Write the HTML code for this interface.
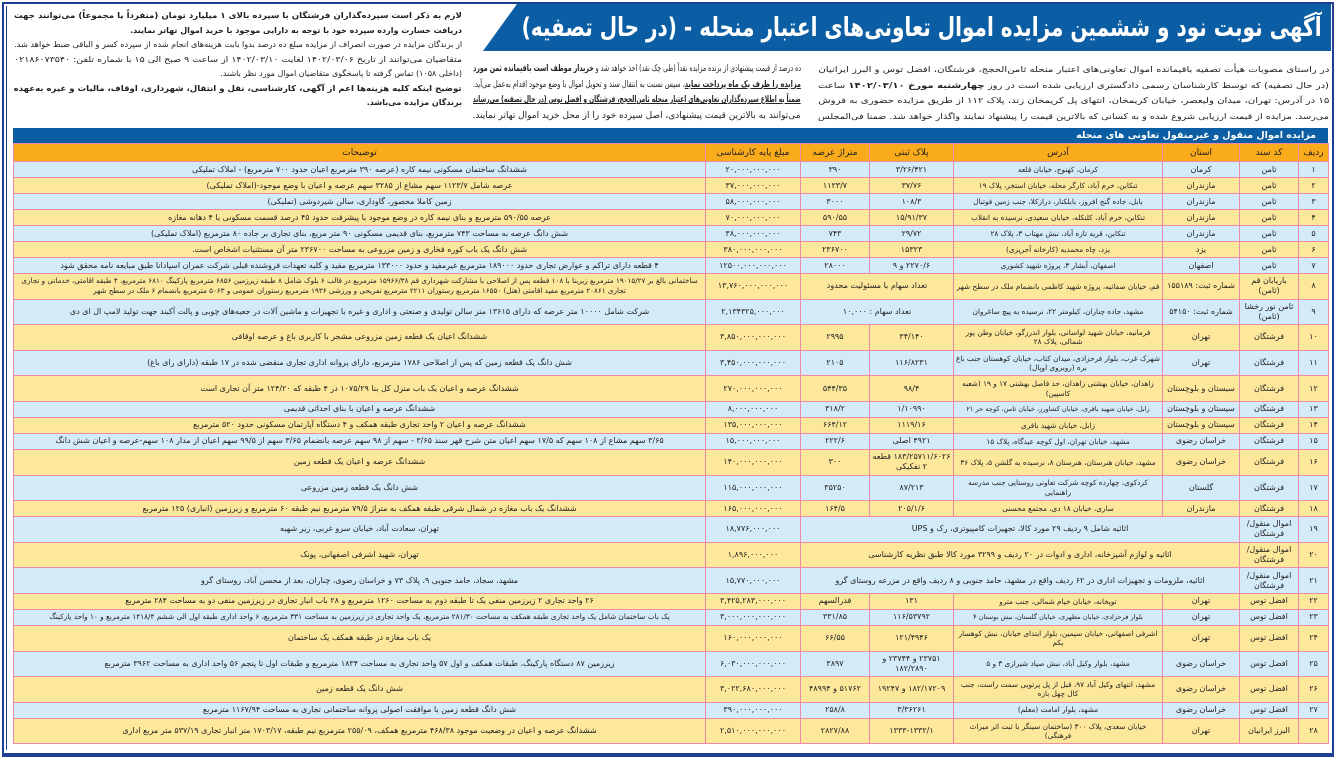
<!DOCTYPE html>
<html><head><meta charset="utf-8">
<style>
*{margin:0;padding:0;box-sizing:border-box}
body{width:1336px;height:764px;background:#fff;position:relative;overflow:hidden;font-family:"DejaVu Sans","Liberation Sans",sans-serif;color:#222}
.frame{position:absolute;left:2px;top:2px;width:1332px;height:755px;border:2px solid #1f3f94;border-bottom:4px solid #1f3f94}
.frame2{position:absolute;left:6px;top:6px;width:1324px;height:744px;border-left:1px solid #1f3f94}
.txt{position:absolute;direction:rtl;white-space:nowrap}
.txt div{overflow:hidden;text-align:right}
.txt span{display:inline-block;transform-origin:right center}
.b{font-weight:bold;text-decoration:underline}
.title{position:absolute;left:0;top:0}
table{position:absolute;left:13px;top:143px;width:1315px;border-collapse:collapse;table-layout:fixed;direction:rtl;font-size:8px}
td{border:1px solid #ee8aa8;text-align:center;padding:0;vertical-align:middle}
td>div{overflow:hidden;display:flex;align-items:center;justify-content:center;line-height:10px;padding:0 2px}
td.ad>div{font-size:7.3px;line-height:9.5px}
tr.s td>div{height:15px}
tr.d td>div{height:24.6px}
tr.h td{background:#f9ab1b;font-size:9px}
tr.h td>div{height:17px}
tr.o td{background:#d3ebf8}
tr.e td{background:#fde79b}
td.desc>div{white-space:nowrap}
.tbar{position:absolute;left:13px;top:128px;width:1315px;height:15px;background:#0b5ea3;color:#fff;font-weight:bold;font-size:9.5px;direction:rtl;padding-right:12px;line-height:15px}
#ttl{position:absolute;top:9px;right:14px;width:800px;height:38px;direction:rtl;color:#fff;font-weight:bold;font-size:26px;line-height:38px;white-space:nowrap;overflow:visible;text-align:right}
#ttl span{display:inline-block;transform-origin:right center}
</style></head><body>
<div class="frame"></div>
<div class="frame2"></div>
<svg class="title" width="1336" height="60"><polygon points="517,4 1331,4 1331,51 483,51" fill="#0b5ea3"/></svg>
<div id="ttl"><span>آگهی نوبت نود و ششمین مزایده اموال تعاونی‌های اعتبار منحله - (در حال تصفیه)</span></div>

<div class="txt fitbox" style="left:14px;top:9px;width:448px;font-size:8px;line-height:14.5px">
<div class="b"><span>لازم به ذکر است سپرده‌گذاران فرشتگان با سپرده بالای ۱ میلیارد تومان (منفرداً یا مجموعاً) می‌توانند جهت</span></div>
<div class="b"><span data-nofit="1">دریافت خسارت وارده سپرده خود با توجه به دارایی موجود با خرید اموال تهاتر نمایند.</span></div>
<div><span>از برندگان مزایده در صورت انصراف از مزایده مبلغ ده درصد بدوا بابت هزینه‌های انجام شده از سپرده کسر و الباقی ضبط خواهد شد.</span></div>
<div><span>متقاضیان می‌توانند از تاریخ ۱۴۰۲/۰۳/۰۶ لغایت ۱۴۰۲/۰۳/۱۰ از ساعت ۹ صبح الی ۱۵ با شماره تلفن: ۰۲۱۸۶۰۷۳۵۴۰</span></div>
<div><span data-nofit="1">(داخلی ۱۰۵۸) تماس گرفته تا پاسخگوی متقاضیان اموال مورد نظر باشند.</span></div>
<div class="b"><span>توضیح اینکه کلیه هزینه‌ها اعم از آگهی، کارشناسی، نقل و انتقال، شهرداری، اوقاف، مالیات و غیره به‌عهده</span></div>
<div class="b"><span data-nofit="1">برندگان مزایده می‌باشد.</span></div>
</div>

<div class="txt fitbox" style="left:818px;top:62px;width:511px;font-size:8px;line-height:15.5px">
<div><span>در راستای مصوبات هیأت تصفیه باقیمانده اموال تعاونی‌های اعتبار منحله ثامن‌الحجج، فرشتگان، افضل توس و البرز ایرانیان</span></div>
<div><span>(در حال تصفیه) که توسط کارشناسان رسمی دادگستری ارزیابی شده است در روز <b>چهارشنبه مورخ ۱۴۰۲/۰۳/۱۰</b> ساعت</span></div>
<div><span>۱۵ در آدرس: تهران، میدان ولیعصر، خیابان کریمخان، انتهای پل کریمخان زند، پلاک ۱۱۲ از طریق مزایده حضوری به فروش</span></div>
<div><span>می‌رسد. مزایده از قیمت ارزیابی شروع شده و به کسانی که بالاترین قیمت را پیشنهاد نمایند واگذار خواهد شد. ضمنا فی‌المجلس</span></div>
</div>
<div class="txt fitbox" style="left:473px;top:62px;width:328px;font-size:9px;line-height:15.5px">
<div><span>ده درصد از قیمت پیشنهادی از برنده مزایده نقداً (طی چک نقد) اخذ خواهد شد و <b>خریدار موظف است باقیمانده ثمن مورد</b></span></div>
<div><span><b style="text-decoration:underline">مزایده را ظرف یک ماه پرداخت نماید</b>، سپس نسبت به انتقال سند و تحویل اموال با وضع موجود اقدام به‌عمل می‌آید.</span></div>
<div><span><b style="text-decoration:underline">ضمناً به اطلاع سپرده‌گذاران تعاونی‌های اعتبار منحله ثامن‌الحجج، فرشتگان و افضل توس (در حال تصفیه) می‌رساند</b></span></div>
<div><span data-nofit="1">می‌توانند به بالاترین قیمت پیشنهادی، اصل سپرده خود را از محل خرید اموال تهاتر نمایند.</span></div>
</div>

<div class="tbar">مزایده اموال منقول و غیرمنقول تعاونی های منحله</div>
<table>
<colgroup><col style="width:30px"><col style="width:59px"><col style="width:77px"><col style="width:209px"><col style="width:84px"><col style="width:69px"><col style="width:95px"><col style="width:692px"></colgroup>
<tr class="h"><td><div>ردیف</div></td><td><div>کد سند</div></td><td><div>استان</div></td><td><div>آدرس</div></td><td><div>پلاک ثبتی</div></td><td><div>متراژ عرصه</div></td><td><div>مبلغ پایه کارشناسی</div></td><td class="desc"><div>توضیحات</div></td></tr>
<tr class="s o"><td><div>۱</div></td><td><div>ثامن</div></td><td><div>کرمان</div></td><td class="ad"><div>کرمان، کهنوج، خیابان قلعه</div></td><td><div>۳/۲۶/۴۲۱</div></td><td><div>۳۹۰</div></td><td><div>۲۰,۰۰۰,۰۰۰,۰۰۰</div></td><td class="desc"><div>ششدانگ ساختمان مسکونی نیمه کاره (عرصه ۳۹۰ مترمربع اعیان حدود ۷۰۰ مترمربع) - املاک تملیکی</div></td></tr>
<tr class="s e"><td><div>۲</div></td><td><div>ثامن</div></td><td><div>مازندران</div></td><td class="ad"><div>تنکابن، خرم آباد، کارگر محله، خیابان استخر، پلاک ۱۹</div></td><td><div>۳۷/۷۶</div></td><td><div>۱۱۲۳/۷</div></td><td><div>۳۷,۰۰۰,۰۰۰,۰۰۰</div></td><td class="desc"><div>عرصه شامل ۱۱۲۳/۷ سهم مشاع از ۳۲۸۵ سهم عرصه و اعیان با وضع موجود-(املاک تملیکی)</div></td></tr>
<tr class="s o"><td><div>۳</div></td><td><div>ثامن</div></td><td><div>مازندران</div></td><td class="ad"><div>بابل، جاده گنج افروز، بابلکنار، درازکلا، جنب زمین فوتبال</div></td><td><div>۱۰۸/۳</div></td><td><div>۳۰۰۰</div></td><td><div>۵۸,۰۰۰,۰۰۰,۰۰۰</div></td><td class="desc"><div>زمین کاملا محصور، گاوداری، سالن شیردوشی (تملیکی)</div></td></tr>
<tr class="s e"><td><div>۴</div></td><td><div>ثامن</div></td><td><div>مازندران</div></td><td class="ad"><div>تنکابن، خرم آباد، کلنکله، خیابان سعیدی، نرسیده به انقلاب</div></td><td><div>۱۵/۹۱/۳۷</div></td><td><div>۵۹۰/۵۵</div></td><td><div>۷۰,۰۰۰,۰۰۰,۰۰۰</div></td><td class="desc"><div>عرصه ۵۹۰/۵۵ مترمربع و بنای نیمه کاره در وضع موجود با پیشرفت حدود ۴۵ درصد قسمت مسکونی با ۴ دهانه مغازه</div></td></tr>
<tr class="s o"><td><div>۵</div></td><td><div>ثامن</div></td><td><div>مازندران</div></td><td class="ad"><div>تنکابن، قریه تازه آباد، نبش مهتاب ۳، پلاک ۲۸</div></td><td><div>۲۹/۷۲</div></td><td><div>۷۴۳</div></td><td><div>۳۸,۰۰۰,۰۰۰,۰۰۰</div></td><td class="desc"><div>شش دانگ عرصه به مساحت ۷۴۳ مترمربع، بنای قدیمی مسکونی ۹۰ متر مربع، بنای تجاری بر جاده ۸۰ مترمربع (املاک تملیکی)</div></td></tr>
<tr class="s e"><td><div>۶</div></td><td><div>ثامن</div></td><td><div>یزد</div></td><td class="ad"><div>یزد، چاه محمدیه (کارخانه آجرپزی)</div></td><td><div>۱۵۳۲۳</div></td><td><div>۲۳۶۷۰۰</div></td><td><div>۳۸۰,۰۰۰,۰۰۰,۰۰۰</div></td><td class="desc"><div>شش دانگ یک باب کوره فخاری و زمین مزروعی به مساحت ۲۳۶۷۰۰ متر آن مستثنیات اشخاص است.</div></td></tr>
<tr class="s o"><td><div>۷</div></td><td><div>ثامن</div></td><td><div>اصفهان</div></td><td class="ad"><div>اصفهان، آبشار ۳، پروژه شهید کشوری</div></td><td><div>۲۲۷۰/۶ و ۹</div></td><td><div>۲۸۰۰۰</div></td><td><div>۱۲۵۰۰,۰۰۰,۰۰۰,۰۰۰</div></td><td class="desc"><div>۴ قطعه دارای تراکم و عوارض تجاری حدود ۱۸۹۰۰۰ مترمربع غیرمفید و حدود ۱۳۳۰۰۰ مترمربع مفید و کلیه تعهدات فروشنده قبلی شرکت عمران اسپادانا طبق مبایعه نامه محقق شود</div></td></tr>
<tr class="d e"><td><div>۸</div></td><td><div>باریابان قم (ثامن)</div></td><td><div>شماره ثبت: ۱۵۵۱۸۹</div></td><td class="ad"><div>قم، خیابان صفائیه، پروژه شهید کاظمی بانضمام ملک در سطح شهر</div></td><td colspan="2"><div>تعداد سهام با مسئولیت محدود</div></td><td><div>۱۳,۷۶۰,۰۰۰,۰۰۰,۰۰۰</div></td><td class="desc"><div style="flex-direction:column;white-space:nowrap;font-size:7.2px">ساختمانی بالغ بر ۱۹۰۱۵/۲۷ مترمربع زیربنا با ۱۰۸ قطعه پس از اصلاحی با مشارکت شهرداری قم ۱۵۹۶۶/۳۸ مترمربع در قالب ۶ بلوک شامل ۸ طبقه زیرزمین ۶۸۵۶ مترمربع پارکینگ ۶۸۱۰ مترمربع، ۴ طبقه اقامتی، خدماتی و تجاری<br>تجاری ۲۰۸۶۱ مترمربع مفید اقامتی (هتل) ۱۶۵۵۰ مترمربع رستوران ۲۲۱۱ مترمربع تفریحی و ورزشی ۱۹۳۶ مترمربع رستوران عمومی و ۵۰۶۳ مترمربع بانضمام ۶ ملک در سطح شهر</div></td></tr>
<tr class="d o"><td><div>۹</div></td><td><div>ثامن نور رخشا (ثامن)</div></td><td><div>شماره ثبت: ۵۴۱۵۰</div></td><td class="ad"><div>مشهد، جاده چناران، کیلومتر ۲۲، نرسیده به پیچ ساغروان</div></td><td colspan="2"><div>تعداد سهام : ۱۰,۰۰۰</div></td><td><div>۲,۱۳۴۳۲۵,۰۰۰,۰۰۰</div></td><td class="desc"><div>شرکت شامل ۱۰۰۰۰ متر عرصه که دارای ۱۳۶۱۵ متر سالن تولیدی و صنعتی و اداری و غیره با تجهیزات و ماشین آلات در جعبه‌های چوبی و پالت آکبند جهت تولید لامپ ال ای دی</div></td></tr>
<tr class="d e"><td><div>۱۰</div></td><td><div>فرشتگان</div></td><td><div>تهران</div></td><td class="ad"><div>فرمانیه، خیابان شهید لواسانی، بلوار اندرزگو، خیابان وطن پور شمالی، پلاک ۲۸</div></td><td><div>۳۴/۱۴۰</div></td><td><div>۲۹۹۵</div></td><td><div>۳,۸۵۰,۰۰۰,۰۰۰,۰۰۰</div></td><td class="desc"><div>ششدانگ اعیان یک قطعه زمین مزروعی مشجر با کاربری باغ و عرصه اوقافی</div></td></tr>
<tr class="d o"><td><div>۱۱</div></td><td><div>فرشتگان</div></td><td><div>تهران</div></td><td class="ad"><div>شهرک غرب، بلوار فرحزادی، میدان کتاب، خیابان کوهستان جنب باغ بره (روبروی اوپال)</div></td><td><div>۱۱۶/۸۲۳۱</div></td><td><div>۲۱۰۵</div></td><td><div>۳,۴۵۰,۰۰۰,۰۰۰,۰۰۰</div></td><td class="desc"><div>شش دانگ یک قطعه زمین که پس از اصلاحی ۱۷۸۶ مترمربع، دارای پروانه اداری تجاری منقضی شده در ۱۷ طبقه (دارای رای باغ)</div></td></tr>
<tr class="d e"><td><div>۱۲</div></td><td><div>فرشتگان</div></td><td><div>سیستان و بلوچستان</div></td><td class="ad"><div>زاهدان، خیابان بهشتی زاهدان، حد فاصل بهشتی ۱۷ و ۱۹ (شعبه کاسپین)</div></td><td><div>۹۸/۴</div></td><td><div>۵۴۴/۳۵</div></td><td><div>۲۷۰,۰۰۰,۰۰۰,۰۰۰</div></td><td class="desc"><div>ششدانگ عرصه و اعیان یک باب منزل کل بنا ۱۰۷۵/۲۹ در ۴ طبقه که ۱۲۴/۲۰ متر آن تجاری است</div></td></tr>
<tr class="s o"><td><div>۱۳</div></td><td><div>فرشتگان</div></td><td><div>سیستان و بلوچستان</div></td><td class="ad"><div style="font-size:6.6px">زابل، خیابان شهید باقری، خیابان کشاورز، خیابان ثامن، کوچه حر ۲۱</div></td><td><div>۱/۱۰۹۹۰</div></td><td><div>۳۱۸/۲</div></td><td><div>۸,۰۰۰,۰۰۰,۰۰۰</div></td><td class="desc"><div>ششدانگ عرصه و اعیان با بنای احداثی قدیمی</div></td></tr>
<tr class="s e"><td><div>۱۴</div></td><td><div>فرشتگان</div></td><td><div>سیستان و بلوچستان</div></td><td class="ad"><div>زابل، خیابان شهید باقری</div></td><td><div>۱۱۱۹/۱۶</div></td><td><div>۶۶۴/۱۲</div></td><td><div>۱۳۵,۰۰۰,۰۰۰,۰۰۰</div></td><td class="desc"><div>ششدانگ عرصه و اعیان ۲ واحد تجاری طبقه همکف و ۴ دستگاه آپارتمان مسکونی حدود ۵۲۰ مترمربع</div></td></tr>
<tr class="s o"><td><div>۱۵</div></td><td><div>فرشتگان</div></td><td><div>خراسان رضوی</div></td><td class="ad"><div>مشهد، خیابان تهران، اول کوچه عیدگاه، پلاک ۱۵</div></td><td><div>۴۹۲۱ اصلی</div></td><td><div>۲۲۲/۶</div></td><td><div>۱۵,۰۰۰,۰۰۰,۰۰۰</div></td><td class="desc"><div>۳/۶۵ سهم مشاع از ۱۰۸ سهم که ۱۷/۵ سهم اعیان متن شرح قهر سند ۳/۶۵ - سهم از ۹۸ سهم عرصه بانضمام ۳/۶۵ سهم از ۹۹/۵ سهم اعیان از مدار ۱۰۸ سهم-عرصه و اعیان شش دانگ</div></td></tr>
<tr class="d e"><td><div>۱۶</div></td><td><div>فرشتگان</div></td><td><div>خراسان رضوی</div></td><td class="ad"><div>مشهد، خیابان هنرستان، هنرستان ۸، نرسیده به گلشن ۵، پلاک ۳۶</div></td><td><div>۱۸۳/۲۵۷۱۱/۶۰۲۶ قطعه ۲ تفکیکی</div></td><td><div>۳۰۰</div></td><td><div>۱۴۰,۰۰۰,۰۰۰,۰۰۰</div></td><td class="desc"><div>ششدانگ عرصه و اعیان یک قطعه زمین</div></td></tr>
<tr class="d o"><td><div>۱۷</div></td><td><div>فرشتگان</div></td><td><div>گلستان</div></td><td class="ad"><div>کردکوی، چهارده کوچه شرکت تعاونی روستایی جنب مدرسه راهنمایی</div></td><td><div>۸۷/۲۱۳</div></td><td><div>۳۵۲۵۰</div></td><td><div>۱۱۵,۰۰۰,۰۰۰,۰۰۰</div></td><td class="desc"><div>شش دانگ یک قطعه زمین مزروعی</div></td></tr>
<tr class="s e"><td><div>۱۸</div></td><td><div>فرشتگان</div></td><td><div>مازندران</div></td><td class="ad"><div>ساری، خیابان ۱۸ دی، مجتمع محسنی</div></td><td><div>۲۰۵/۱/۶</div></td><td><div>۱۶۴/۵</div></td><td><div>۱۶۵,۰۰۰,۰۰۰,۰۰۰</div></td><td class="desc"><div>ششدانگ یک باب مغازه در شمال شرقی طبقه همکف به متراژ ۷۹/۵ مترمربع نیم طبقه ۶۰ مترمربع و زیرزمین (انباری) ۱۲۵ مترمربع</div></td></tr>
<tr class="d o"><td><div>۱۹</div></td><td><div>اموال منقول/ فرشتگان</div></td><td colspan="4"><div>اثاثیه شامل ۹ ردیف ۲۹ مورد کالا، تجهیزات کامپیوتری، رک و UPS</div></td><td><div>۱۸,۷۷۶,۰۰۰,۰۰۰</div></td><td class="desc"><div>تهران، سعادت آباد، خیابان سرو غربی، زیر شهبه</div></td></tr>
<tr class="d e"><td><div>۲۰</div></td><td><div>اموال منقول/ فرشتگان</div></td><td colspan="4"><div>اثاثیه و لوازم آشپزخانه، اداری و ادوات در ۲۰ ردیف و ۳۲۹۹ مورد کالا طبق نظریه کارشناسی</div></td><td><div>۱,۸۹۶,۰۰۰,۰۰۰</div></td><td class="desc"><div>تهران، شهید اشرفی اصفهانی، پونک</div></td></tr>
<tr class="d o"><td><div>۲۱</div></td><td><div>اموال منقول/ فرشتگان</div></td><td colspan="4"><div>اثاثیه، ملزومات و تجهیزات اداری در ۶۲ ردیف واقع در مشهد، حامد جنوبی و ۸ ردیف واقع در مزرعه روستای گرو</div></td><td><div>۱۵,۷۷۰,۰۰۰,۰۰۰</div></td><td class="desc"><div>مشهد، سجاد، حامد جنوبی ۹، پلاک ۷۳ و خراسان رضوی، چناران، بعد از محسن آباد، روستای گرو</div></td></tr>
<tr class="s e"><td><div>۲۲</div></td><td><div>افضل توس</div></td><td><div>تهران</div></td><td class="ad"><div>توپخانه، خیابان خیام شمالی، جنب مترو</div></td><td><div>۱۳۱</div></td><td><div>قدرالسهم</div></td><td><div>۳,۴۲۵,۲۸۳,۰۰۰,۰۰۰</div></td><td class="desc"><div>۲۶ واحد تجاری ۲ زیرزمین منفی یک تا طبقه دوم به مساحت ۱۲۶۰ مترمربع و ۲۸ باب انبار تجاری در زیرزمین منفی دو به مساحت ۲۸۴ مترمربع</div></td></tr>
<tr class="s o"><td><div>۲۳</div></td><td><div>افضل توس</div></td><td><div>تهران</div></td><td class="ad"><div style="font-size:6.6px">بلوار فرحزادی، خیابان مطهری، خیابان گلستان، نبش بوستان ۴</div></td><td><div>۱۱۶/۵۳۷۹۲</div></td><td><div>۳۳۱/۸۵</div></td><td><div>۳,۰۰۰,۰۰۰,۰۰۰,۰۰۰</div></td><td class="desc"><div style="font-size:7.3px">یک باب ساختمان شامل یک واحد تجاری طبقه همکف به مساحت ۲۸۱/۳۰ مترمربع، یک واحد تجاری در زیرزمین به مساحت ۳۳۱ مترمربع، ۶ واحد اداری طبقه اول الی ششم ۱۴۱۸/۴ مترمربع و ۱۰ واحد پارکینگ</div></td></tr>
<tr class="d e"><td><div>۲۴</div></td><td><div>افضل توس</div></td><td><div>تهران</div></td><td class="ad"><div>اشرفی اصفهانی، خیابان سیمین، بلوار ابتدای خیابان، نبش کوهسار یکم</div></td><td><div>۱۲۱/۴۹۴۶</div></td><td><div>۶۶/۵۵</div></td><td><div>۱۶۰,۰۰۰,۰۰۰,۰۰۰</div></td><td class="desc"><div>یک باب مغازه در طبقه همکف یک ساختمان</div></td></tr>
<tr class="d o"><td><div>۲۵</div></td><td><div>افضل توس</div></td><td><div>خراسان رضوی</div></td><td class="ad"><div>مشهد، بلوار وکیل آباد، نبش صیاد شیرازی ۳ و ۵</div></td><td><div>۲۳۷۵۱ و ۲۳۷۴۴ و ۱۸۲/۲۸۹۰</div></td><td><div>۳۸۹۷</div></td><td><div>۶,۰۳۰,۰۰۰,۰۰۰,۰۰۰</div></td><td class="desc"><div>زیرزمین ۸۷ دستگاه پارکینگ، طبقات همکف و اول ۵۷ واحد تجاری به مساحت ۱۸۳۴ مترمربع و طبقات اول تا پنجم ۵۶ واحد اداری به مساحت ۳۹۶۲ مترمربع</div></td></tr>
<tr class="d e"><td><div>۲۶</div></td><td><div>افضل توس</div></td><td><div>خراسان رضوی</div></td><td class="ad"><div>مشهد، انتهای وکیل آباد ۹۷، قبل از پل پرتویی سمت راست، جنب کال چهل بازه</div></td><td><div>۱۸۲/۱۷۲۰۹ و ۱۹۲۴۷</div></td><td><div>۵۱۷۶۲ و ۴۸۹۹۴</div></td><td><div>۳,۰۲۲,۶۸۰,۰۰۰,۰۰۰</div></td><td class="desc"><div>شش دانگ یک قطعه زمین</div></td></tr>
<tr class="s o"><td><div>۲۷</div></td><td><div>افضل توس</div></td><td><div>خراسان رضوی</div></td><td class="ad"><div>مشهد، بلوار امامت (معلم)</div></td><td><div>۳/۳۶۲۶۱</div></td><td><div>۲۵۸/۸</div></td><td><div>۳۹۰,۰۰۰,۰۰۰,۰۰۰</div></td><td class="desc"><div>شش دانگ قطعه زمین با موافقت اصولی پروانه ساختمانی تجاری به مساحت ۱۱۶۷/۹۴ مترمربع</div></td></tr>
<tr class="d e"><td><div>۲۸</div></td><td><div>البرز ایرانیان</div></td><td><div>تهران</div></td><td class="ad"><div>خیابان سعدی، پلاک ۳۰۰ (ساختمان سینگر با ثبت اثر میراث فرهنگی)</div></td><td><div>۱۳۳۳-۱۳۳۲/۱</div></td><td><div>۲۸۲۷/۸۸</div></td><td><div>۲,۵۱۰,۰۰۰,۰۰۰,۰۰۰</div></td><td class="desc"><div>ششدانگ عرصه و اعیان در وضعیت موجود ۴۶۸/۳۸ مترمربع همکف، ۲۵۵/۰۹ مترمربع نیم طبقه، ۱۷۰۳/۱۷ متر انبار تجاری ۵۳۷/۱۹ متر مربع اداری</div></td></tr>
</table>
<script>
(function(){
  function fit(span,w,stretch){
    var sw=span.getBoundingClientRect().width;
    if(!sw)return;
    var s=w/sw;
    if(s<1||stretch){span.style.transform='scaleX('+s+')';}
  }
  var t=document.querySelector('#ttl span');
  fit(t,800,true);
  document.querySelectorAll('.fitbox').forEach(function(b){
    var w=b.clientWidth;
    b.querySelectorAll('span').forEach(function(sp){
      fit(sp,w,!sp.hasAttribute('data-nofit'));
    });
  });
})();
</script>
</body></html>
